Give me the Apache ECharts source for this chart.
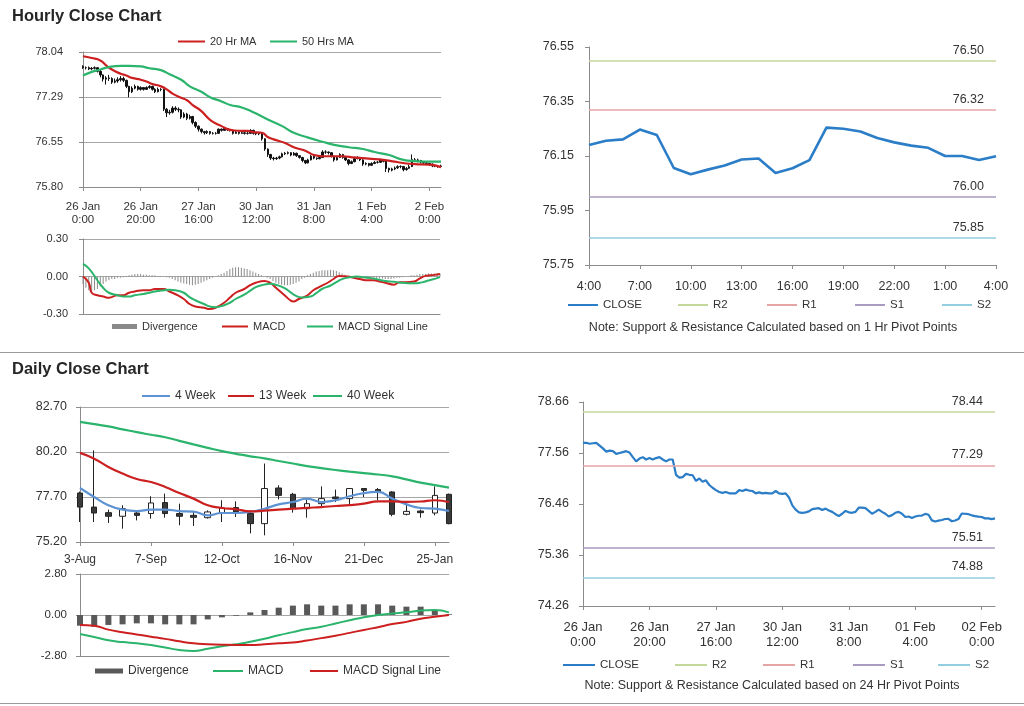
<!DOCTYPE html>
<html><head><meta charset="utf-8">
<script src="https://cdn.jsdelivr.net/npm/echarts@6/dist/echarts.min.js"></script>
<style>
html,body{margin:0;padding:0;background:#fff;width:1024px;height:706px;overflow:hidden;}
.c{position:absolute;width:512px;height:352px;}
.sep{position:absolute;left:0;width:1024px;height:1px;background:#9a9a9a;}
</style></head><body>
<div id="tl" class="c" style="left:0;top:0"></div>
<div id="tr" class="c" style="left:512px;top:0"></div>
<div id="bl" class="c" style="left:0;top:352px"></div>
<div id="br" class="c" style="left:512px;top:352px"></div>
<div class="sep" style="top:352px"></div>
<div class="sep" style="top:703px"></div>
<script>
// ---------------- DATA ----------------
const hourlyTickLabels = ['26 Jan\n0:00','26 Jan\n20:00','27 Jan\n16:00','30 Jan\n12:00','31 Jan\n8:00','1 Feb\n4:00','2 Feb\n0:00'];
const hourlyTickLabels24 = ['26 Jan\n0:00','26 Jan\n20:00','27 Jan\n16:00','30 Jan\n12:00','31 Jan\n8:00','01 Feb\n4:00','02 Feb\n0:00'];

const hourlyOpen = [77.80,77.78,77.78,77.76,77.77,77.78,77.72,77.66,77.59,77.61,
 77.60,77.54,77.56,77.58,77.60,77.57,77.47,77.38,77.44,77.47,
 77.42,77.45,77.42,77.45,77.47,77.42,77.38,77.42,77.42,77.09,
 77.03,77.04,77.11,77.09,77.08,76.96,77.01,76.94,76.97,76.87,
 76.81,76.76,76.72,76.70,76.72,76.69,76.69,76.69,76.76,76.74,
 76.77,76.75,76.74,76.69,76.71,76.69,76.70,76.69,76.69,76.74,
 76.69,76.68,76.69,76.60,76.43,76.34,76.28,76.27,76.28,76.30,
 76.35,76.36,76.37,76.33,76.36,76.32,76.29,76.24,76.20,76.25,
 76.31,76.28,76.27,76.29,76.38,76.38,76.37,76.31,76.25,76.29,
 76.34,76.29,76.25,76.19,76.22,76.27,76.29,76.25,76.18,76.19,
 76.16,76.19,76.21,76.21,76.25,76.23,76.11,76.08,76.10,76.12,
 76.14,76.14,76.09,76.11,76.14,76.25,76.25,76.24,76.22,76.20,
 76.19,76.18,76.15,76.15,76.14];
const hourlyClose = [77.78,77.78,77.76,77.77,77.78,77.72,77.66,77.59,77.61,77.60,
 77.54,77.56,77.58,77.60,77.57,77.47,77.38,77.44,77.47,77.42,
 77.45,77.42,77.45,77.47,77.42,77.38,77.42,77.42,77.09,77.03,
 77.04,77.11,77.09,77.08,76.96,77.01,76.94,76.97,76.87,76.81,
 76.76,76.72,76.70,76.72,76.69,76.69,76.69,76.76,76.74,76.77,
 76.75,76.74,76.69,76.71,76.69,76.70,76.69,76.69,76.74,76.69,
 76.68,76.69,76.60,76.43,76.34,76.28,76.27,76.28,76.30,76.35,
 76.36,76.37,76.33,76.36,76.32,76.29,76.24,76.20,76.25,76.31,
 76.28,76.27,76.29,76.38,76.38,76.37,76.31,76.25,76.29,76.34,
 76.29,76.25,76.19,76.22,76.27,76.29,76.25,76.18,76.19,76.16,
 76.190,76.206,76.211,76.247,76.227,76.106,76.083,76.100,76.115,76.137,
 76.141,76.088,76.105,76.135,76.254,76.250,76.240,76.216,76.200,76.188,
 76.180,76.150,76.150,76.135,76.149];
const hourlyLow = [77.76,77.75,77.74,77.74,77.75,77.70,77.62,77.55,77.50,77.56,
 77.51,77.52,77.53,77.55,77.54,77.44,77.29,77.36,77.42,77.40,
 77.40,77.40,77.41,77.43,77.40,77.36,77.37,77.39,77.06,76.96,
 77.00,77.02,77.06,77.04,76.93,76.94,76.91,76.92,76.84,76.78,
 76.72,76.69,76.67,76.68,76.67,76.67,76.67,76.68,76.72,76.73,
 76.73,76.72,76.67,76.68,76.67,76.68,76.67,76.67,76.68,76.67,
 76.66,76.66,76.57,76.40,76.30,76.25,76.24,76.25,76.26,76.29,
 76.33,76.34,76.31,76.32,76.30,76.27,76.21,76.18,76.19,76.24,
 76.26,76.25,76.26,76.28,76.35,76.34,76.29,76.22,76.24,76.28,
 76.27,76.23,76.16,76.18,76.21,76.26,76.23,76.15,76.16,76.14,
 76.15,76.18,76.19,76.20,76.21,76.05,76.04,76.06,76.08,76.10,
 76.11,76.06,76.07,76.10,76.13,76.22,76.21,76.19,76.18,76.17,
 76.15,76.13,76.13,76.12,76.12];
const hourlyHigh = [77.82,77.80,77.80,77.79,77.80,77.79,77.74,77.67,77.64,77.66,
 77.62,77.60,77.62,77.64,77.63,77.58,77.48,77.47,77.50,77.48,
 77.47,77.46,77.47,77.49,77.48,77.44,77.45,77.44,77.43,77.11,
 77.08,77.14,77.14,77.12,77.09,77.04,77.03,77.00,76.98,76.89,
 76.82,76.77,76.73,76.74,76.73,76.71,76.71,76.77,76.77,76.79,
 76.78,76.76,76.75,76.73,76.72,76.72,76.71,76.71,76.76,76.75,
 76.71,76.71,76.70,76.61,76.44,76.35,76.30,76.30,76.32,76.37,
 76.38,76.39,76.38,76.38,76.37,76.33,76.30,76.25,76.27,76.33,
 76.32,76.29,76.31,76.41,76.41,76.39,76.38,76.32,76.31,76.36,
 76.35,76.30,76.26,76.24,76.29,76.31,76.30,76.26,76.21,76.20,
 76.21,76.23,76.23,76.27,76.26,76.24,76.12,76.12,76.14,76.16,
 76.16,76.15,76.13,76.17,76.34,76.28,76.27,76.25,76.23,76.22,
 76.20,76.19,76.17,76.16,76.17];

// moving averages: [hour index, value]
const ma20Hr = [[0,77.97],[3,77.94],[6,77.90],[8,77.82],[10,77.75],[13,77.68],[15,77.65],[17,77.61],[20,77.58],[22,77.55],[24,77.51],[27,77.47],[29,77.42],[31,77.35],[34,77.28],[36,77.24],[38,77.16],[41,77.06],[43,76.96],[45,76.88],[48,76.81],[50,76.76],[52,76.74],[55,76.73],[57,76.73],[59,76.71],[62,76.70],[64,76.63],[66,76.59],[70,76.53],[73,76.46],[77,76.40],[80,76.33],[83,76.31],[86,76.31],[90,76.31],[94,76.29],[99,76.27],[104,76.25],[108,76.22],[112,76.19],[115,76.18],[120,76.17],[124,76.13]];
const ma50Hr = [[0,77.65],[3,77.71],[6,77.75],[9,77.79],[13,77.81],[16,77.81],[20,77.80],[23,77.77],[27,77.74],[30,77.67],[34,77.58],[37,77.47],[41,77.38],[44,77.29],[48,77.22],[51,77.16],[55,77.12],[59,77.04],[64,76.92],[69,76.81],[73,76.70],[78,76.62],[83,76.55],[87,76.50],[92,76.46],[97,76.43],[101,76.38],[106,76.33],[111,76.25],[115,76.23],[120,76.22],[124,76.22]];

const hourlyMacd = [[0,0.00],[2,-0.05],[3,-0.13],[5,-0.15],[7,-0.16],[9,-0.17],[12,-0.15],[14,-0.15],[16,-0.13],[18,-0.12],[21,-0.11],[23,-0.11],[25,-0.10],[28,-0.10],[30,-0.12],[32,-0.14],[35,-0.18],[37,-0.22],[39,-0.24],[42,-0.25],[44,-0.26],[46,-0.25],[49,-0.21],[51,-0.17],[53,-0.13],[56,-0.10],[58,-0.07],[60,-0.05],[63,-0.035],[65,-0.05],[67,-0.09],[70,-0.15],[72,-0.19],[73,-0.20],[75,-0.18],[78,-0.15],[80,-0.11],[82,-0.085],[85,-0.05],[87,-0.02],[89,0.005],[92,0.00],[94,-0.01],[96,-0.02],[99,-0.03],[101,-0.03],[103,-0.04],[105,-0.05],[108,-0.065],[110,-0.045],[112,-0.045],[115,-0.04],[117,-0.015],[119,0.005],[122,0.013],[124,0.02]];
const hourlySignal = [[0,0.10],[2,0.065],[5,-0.03],[7,-0.09],[9,-0.13],[12,-0.15],[14,-0.16],[16,-0.16],[18,-0.15],[21,-0.14],[23,-0.13],[25,-0.12],[28,-0.11],[30,-0.105],[32,-0.11],[35,-0.13],[37,-0.165],[39,-0.19],[42,-0.22],[44,-0.24],[46,-0.245],[49,-0.23],[51,-0.21],[53,-0.18],[56,-0.145],[58,-0.115],[60,-0.085],[63,-0.065],[65,-0.058],[67,-0.066],[70,-0.093],[72,-0.125],[74,-0.155],[76,-0.167],[79,-0.16],[81,-0.133],[83,-0.10],[86,-0.072],[88,-0.045],[90,-0.021],[93,-0.005],[95,0.00],[97,-0.005],[100,-0.013],[102,-0.021],[104,-0.032],[107,-0.04],[109,-0.045],[111,-0.05],[114,-0.053],[116,-0.053],[118,-0.045],[120,-0.032],[123,-0.013],[124,-0.005]];
const hourlyDivergence = [-0.06,-0.09,-0.11,-0.12,-0.11,-0.10,-0.08,-0.06,-0.04,-0.03,
 -0.02,-0.02,-0.01,-0.01,-0.005,0.005,0.01,0.015,0.02,0.02,
 0.02,0.015,0.015,0.01,0.01,0.01,0.005,0.005,0.00,-0.005,
 -0.01,-0.02,-0.03,-0.04,-0.05,-0.055,-0.06,-0.065,-0.07,-0.065,
 -0.06,-0.05,-0.04,-0.03,-0.02,-0.01,0.00,0.01,0.02,0.03,
 0.045,0.06,0.07,0.075,0.075,0.07,0.065,0.06,0.05,0.04,
 0.03,0.02,0.01,0.00,-0.01,-0.02,-0.035,-0.05,-0.06,-0.065,
 -0.07,-0.07,-0.065,-0.06,-0.05,-0.04,-0.02,-0.01,0.01,0.02,
 0.03,0.04,0.045,0.05,0.05,0.05,0.055,0.05,0.045,0.035,
 0.025,0.015,0.005,0.00,-0.005,-0.01,-0.01,-0.015,-0.015,-0.02,
 -0.02,-0.02,-0.015,-0.015,-0.015,-0.02,-0.02,-0.02,-0.015,-0.01,
 -0.01,-0.005,0.00,0.005,0.01,0.01,0.015,0.02,0.02,0.02,
 0.025,0.025,0.025,0.025,0.025];

const pivotHours = ['4:00','5:00','6:00','7:00','8:00','9:00','10:00','11:00','12:00','13:00','14:00','15:00','16:00','17:00','18:00','19:00','20:00','21:00','22:00','23:00','0:00','1:00','2:00','3:00','4:00'];
const pivotNames = ['R2','R1','S1','S2'];
const pivotLevels1h = [76.50, 76.32, 76.00, 75.85];
const pivotLevels24h = [78.44, 77.29, 75.51, 74.88];

const weeks = ['3-Aug','10-Aug','17-Aug','24-Aug','31-Aug','7-Sep','14-Sep','21-Sep','28-Sep','5-Oct','12-Oct','19-Oct','26-Oct','2-Nov','9-Nov','16-Nov','23-Nov','30-Nov','7-Dec','14-Dec','21-Dec','28-Dec','4-Jan','11-Jan','18-Jan','25-Jan','1-Feb'];
const weeklyOpen  = [77.92,77.14,76.83,76.63,76.81,76.78,77.39,76.78,76.68,76.55,76.81,77.11,76.78,76.22,78.20,77.85,77.05,77.33,77.70,77.61,78.17,78.11,77.98,76.74,76.92,76.81,77.85];
const weeklyClose = [77.14,76.81,76.63,77.05,76.68,77.37,76.78,76.63,76.57,76.87,77.09,76.87,76.22,78.17,77.79,77.05,77.33,77.61,77.61,78.17,78.07,77.98,76.74,76.90,76.83,77.79,76.22];
const weeklyLow   = [76.31,76.31,76.26,75.94,76.40,76.50,76.55,76.13,76.09,76.50,76.31,76.59,75.68,75.57,77.57,76.83,76.55,77.15,77.42,77.24,77.70,77.52,76.63,76.68,76.55,76.68,76.18];
const weeklyHigh  = [78.00,80.29,77.00,77.24,76.90,77.74,77.89,77.33,76.92,76.96,77.52,77.46,76.96,79.56,78.35,77.93,77.57,78.29,78.11,78.17,78.17,78.20,78.02,77.42,77.00,78.29,77.89];
const ma4Week  = [78.20,77.70,77.24,77.00,76.92,77.00,77.00,76.92,76.89,76.68,76.81,76.81,76.87,77.05,77.29,77.42,77.61,77.42,77.52,77.74,77.92,77.98,77.61,77.29,77.09,77.05,76.92];
const ma13Week = [80.15,79.83,79.37,79.00,78.70,78.53,78.26,77.92,77.61,77.24,77.09,77.02,76.90,76.94,77.00,77.05,77.10,77.14,77.20,77.25,77.33,77.46,77.46,77.43,77.45,77.52,77.42];
const ma40Week = [81.87,81.75,81.62,81.46,81.30,81.16,81.02,80.82,80.62,80.43,80.25,80.10,79.96,79.85,79.70,79.56,79.42,79.30,79.20,79.11,79.03,78.95,78.85,78.68,78.50,78.36,78.22];
const weeklyMacd   = [-1.30,-1.50,-1.73,-1.85,-1.93,-2.05,-2.22,-2.39,-2.46,-2.30,-2.14,-2.00,-1.83,-1.62,-1.38,-1.17,-0.96,-0.80,-0.58,-0.36,-0.15,0.00,0.10,0.18,0.30,0.34,0.18];
const weeklySignal = [-0.68,-0.73,-1.00,-1.18,-1.33,-1.48,-1.63,-1.80,-1.93,-1.99,-2.03,-2.05,-2.05,-2.00,-1.93,-1.87,-1.74,-1.58,-1.42,-1.22,-1.02,-0.83,-0.62,-0.47,-0.25,-0.12,0.00];
const weeklyDivergence = [-0.73,-0.80,-0.68,-0.64,-0.57,-0.57,-0.64,-0.64,-0.64,-0.30,-0.16,-0.05,0.18,0.34,0.50,0.64,0.73,0.64,0.64,0.73,0.73,0.73,0.64,0.57,0.57,0.34,0.05];

const yTicksHourly = [75.80, 76.55, 77.29, 78.04];
const yTicksMacdHourly = [-0.30, 0.00, 0.30];
const yTicksPivot1h = [75.75, 75.95, 76.15, 76.35, 76.55];
const yTicksPivot24h = [74.26, 75.36, 76.46, 77.56, 78.66];
const yTicksWeekly = [75.20, 77.70, 80.20, 82.70];
const yTicksMacdWeekly = [-2.80, 0.00, 2.80];

// ---------------- STYLE ----------------
const FONT = '"Liberation Sans", Arial, sans-serif';
const NARROW = '"Liberation Sans Narrow", "Arial Narrow", "Liberation Sans", sans-serif';
const TXT = '#333333', AXIS = '#8c8c8c', GRID = '#a6a6a6';
const RED = '#cc2020', GREEN = '#2bb46c', BLUE = '#2a7dc6', LBLUE = '#5e93d3';
const pivotColors = ['#c4d79b', '#e6a5a5', '#a99bc1', '#93cde0'];

const hourCats = hourlyClose.map(function(_, i){ return String(i); });

function yAx(grid, min, max, ticks, font, size, margin, split) {
  return {type:'value', gridIndex:grid, min:min, max:max,
    axisLine:{show:true, lineStyle:{color:AXIS}},
    axisTick:{show:true, length:4, customValues:ticks, lineStyle:{color:AXIS}},
    axisLabel:{show:true, customValues:ticks, formatter:function(v){return Number(v).toFixed(2);},
      color:TXT, fontFamily:font, fontSize:size, margin:margin},
    splitLine:{show:split, lineStyle:{color:GRID, width:1}}};
}
function xCat(grid, data, every, labels, size, margin, lh, show) {
  return {type:'category', gridIndex:grid, data:data, boundaryGap:false,
    axisLine:{show:true, onZero:false, lineStyle:{color:AXIS}},
    axisTick:{show:show, interval:every-1, length:4, lineStyle:{color:AXIS}},
    axisLabel:{show:show, interval:every-1, color:TXT, fontFamily:FONT, fontSize:size, margin:margin, lineHeight:lh,
      formatter:function(v, i){ return labels ? labels[Math.round(i/every)] : v; }},
    splitLine:{show:false}};
}
function leg(name, left, top, w, h, size) {
  return {data:[name], left:left, top:top, padding:0, icon:'rect', itemWidth:w, itemHeight:h,
    selectedMode:false, textStyle:{color:TXT, fontFamily:FONT, fontSize:size}};
}
function lineS(name, data, color, width, xi, yi, smooth) {
  return {type:'line', name:name, data:data, xAxisIndex:xi, yAxisIndex:yi, smooth:smooth, showSymbol:false,
    symbol:'none', color:color, lineStyle:{color:color, width:width}, itemStyle:{color:color}, z:3};
}
function pivotS(levels, fontSize) {
  return pivotNames.map(function(n, i){
    return {type:'line', name:n, data:[], color:pivotColors[i], itemStyle:{color:pivotColors[i]},
      lineStyle:{color:pivotColors[i]},
      markLine:{silent:true, symbol:['none','none'], animation:false,
        data:[{yAxis:levels[i]}],
        lineStyle:{color:pivotColors[i], width:1.6, type:'solid'},
        label:{show:true, position:'insideEndTop', formatter:levels[i].toFixed(2), color:TXT,
          fontFamily:FONT, fontSize:fontSize, distance:[12, 4]}}};
  });
}

// ---------------- TOP LEFT ----------------
const tl = echarts.init(document.getElementById('tl'));
tl.setOption({
  animation:false,
  title:{text:'Hourly Close Chart', left:12, top:8, padding:0,
    textStyle:{fontFamily:FONT, fontSize:16.5, fontWeight:'bold', color:'#262626'}},
  legend:[leg('20 Hr MA',178,36,27,2,11), leg('50 Hrs MA',270,36,27,2,11),
          leg('Divergence',112,321,25,5,11), leg('MACD',222,321,26,2,11), leg('MACD Signal Line',307,321,26,2,11)],
  grid:[{left:83, top:52, width:358, height:135}, {left:83, top:239, width:357, height:75}],
  xAxis:[xCat(0, hourCats, 20, hourlyTickLabels, 11.5, 13, 13.5, true),
         xCat(1, hourCats, 20, null, 11, 8, 13, false)],
  yAxis:[yAx(0, 75.80, 78.04, yTicksHourly, NARROW, 11, 20, true),
         yAx(1, -0.30, 0.30, yTicksMacdHourly, NARROW, 11, 15, true)],
  series:[
    {type:'candlestick', name:'Hourly', xAxisIndex:0, yAxisIndex:0, barWidth:2,
     data:hourlyOpen.map(function(o, i){ return [o, hourlyClose[i], hourlyLow[i], hourlyHigh[i]]; }),
     itemStyle:{color:'#111', color0:'#111', borderColor:'#111', borderColor0:'#111', borderWidth:1}},
    lineS('20 Hr MA', ma20Hr, RED, 2.2, 0, 0, true),
    lineS('50 Hrs MA', ma50Hr, GREEN, 2.2, 0, 0, true),
    {type:'bar', name:'Divergence', xAxisIndex:1, yAxisIndex:1, data:hourlyDivergence, barWidth:1,
     color:'#808080', itemStyle:{color:'#8a8a8a'}},
    lineS('MACD', hourlyMacd, RED, 2, 1, 1, true),
    lineS('MACD Signal Line', hourlySignal, GREEN, 2, 1, 1, true)
  ]
});

// ---------------- TOP RIGHT ----------------
const tr = echarts.init(document.getElementById('tr'));
tr.setOption({
  animation:false,
  legend:[leg('CLOSE',56,299,30,2,11.5), leg('R2',166,299,30,2,11.5), leg('R1',255,299,30,2,11.5),
          leg('S1',343,299,30,2,11.5), leg('S2',430,299,30,2,11.5)],
  grid:{left:77, top:47, width:407, height:218},
  xAxis:xCat(0, pivotHours, 3, null, 12.5, 14, 15, true),
  yAxis:yAx(0, 75.75, 76.55, yTicksPivot1h, FONT, 12.5, 15, false),
  graphic:[{type:'text', x:261, y:328, style:{text:'Note: Support & Resistance Calculated based on 1 Hr Pivot Points',
    textAlign:'center', textVerticalAlign:'middle', fill:TXT, font:'12.5px "Liberation Sans", Arial, sans-serif'}}],
  series:[lineS('CLOSE', hourlyClose.slice(100), BLUE, 2.6, 0, 0, false)].concat(pivotS(pivotLevels1h, 12.5))
});

// ---------------- BOTTOM LEFT ----------------
const bl = echarts.init(document.getElementById('bl'));
bl.setOption({
  animation:false,
  title:{text:'Daily Close Chart', left:12, top:9, padding:0,
    textStyle:{fontFamily:FONT, fontSize:16.5, fontWeight:'bold', color:'#262626'}},
  legend:[leg('4 Week',142,38,28,2,12), leg('13 Week',228,38,26,2,12), leg('40 Week',313,38,29,2,12),
          leg('Divergence',95,313,28,5,12), leg('MACD',213,313,30,2,12), leg('MACD Signal Line',310,313,28,2,12)],
  grid:[{left:80, top:55, width:369, height:135}, {left:80, top:222, width:369, height:82}],
  xAxis:[xCat(0, weeks, 5, null, 12, 11, 14, true), xCat(1, weeks, 5, null, 12, 8, 14, false)],
  yAxis:[yAx(0, 75.20, 82.70, yTicksWeekly, FONT, 12.5, 13, true),
         yAx(1, -2.80, 2.80, yTicksMacdWeekly, NARROW, 11.5, 13, true)],
  series:[
    {type:'candlestick', name:'Weekly', xAxisIndex:0, yAxisIndex:0, barWidth:6,
     data:weeklyOpen.map(function(o, i){ return [o, weeklyClose[i], weeklyLow[i], weeklyHigh[i]]; }),
     itemStyle:{color:'#ffffff', color0:'#3a3a3a', borderColor:'#222', borderColor0:'#222', borderWidth:1}},
    lineS('4 Week', ma4Week, LBLUE, 2.2, 0, 0, true),
    lineS('13 Week', ma13Week, RED, 2.2, 0, 0, true),
    lineS('40 Week', ma40Week, GREEN, 2.2, 0, 0, true),
    {type:'bar', name:'Divergence', xAxisIndex:1, yAxisIndex:1, data:weeklyDivergence, barWidth:6,
     color:'#595959', itemStyle:{color:'#595959'}},
    lineS('MACD', weeklyMacd, GREEN, 2, 1, 1, true),
    lineS('MACD Signal Line', weeklySignal, RED, 2, 1, 1, true)
  ]
});

// ---------------- BOTTOM RIGHT ----------------
const br = echarts.init(document.getElementById('br'));
br.setOption({
  animation:false,
  legend:[leg('CLOSE',51,307,32,2,11.5), leg('R2',163,307,32,2,11.5), leg('R1',251,307,32,2,11.5),
          leg('S1',341,307,32,2,11.5), leg('S2',426,307,32,2,11.5)],
  grid:{left:71, top:50, width:412, height:204},
  xAxis:xCat(0, hourCats, 20, hourlyTickLabels24, 13, 14, 15, true),
  yAxis:yAx(0, 74.26, 78.66, yTicksPivot24h, FONT, 12.5, 14, false),
  graphic:[{type:'text', x:260, y:334, style:{text:'Note: Support & Resistance Calculated based on 24 Hr Pivot Points',
    textAlign:'center', textVerticalAlign:'middle', fill:TXT, font:'12.5px "Liberation Sans", Arial, sans-serif'}}],
  series:[lineS('CLOSE', hourlyClose, BLUE, 2.2, 0, 0, false)].concat(pivotS(pivotLevels24h, 12.5))
});
</script>
</body></html>
